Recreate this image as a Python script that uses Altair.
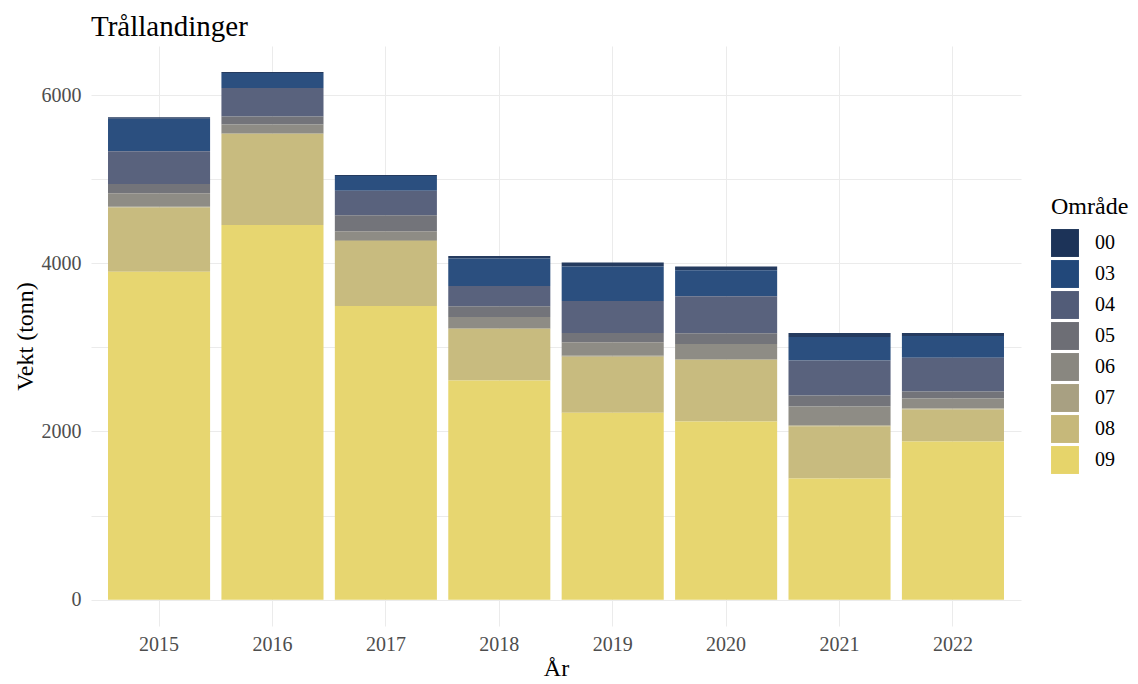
import altair as alt
import pandas as pd

years = ["2015", "2016", "2017", "2018", "2019", "2020", "2021", "2022"]
areas = ["00", "03", "04", "05", "06", "07", "08", "09"]
colors = ["#1c3358", "#22487a", "#525c78", "#6d6e75", "#898780", "#a8a082", "#c6b87a", "#e6d46a"]

v00 = [20, 10, 10, 31, 48, 43, 48, 36]
v03 = [384, 180, 177, 326, 409, 310, 278, 258]
v04 = [390, 337, 290, 242, 381, 440, 416, 401]
v05 = [110, 95, 190, 127, 110, 127, 131, 83]
v06 = [160, 105, 105, 133, 161, 181, 225, 121]
v07 = [10, 10, 10, 10, 10, 10, 10, 10]
v08 = [763, 1080, 774, 611, 667, 730, 623, 381]
v09 = [3900, 4456, 3492, 2607, 2222, 2119, 1440, 1881]

series = [v00, v03, v04, v05, v06, v07, v08, v09]
rows = []
for ai, (a, vals) in enumerate(zip(areas, series)):
    for y, v in zip(years, vals):
        rows.append({"År": y, "Område": a, "Vekt": v, "rank": len(areas) - 1 - ai})
df = pd.DataFrame(rows)

FONT = "Liberation Serif"

chart = alt.Chart(df).mark_bar(opacity=0.96).encode(
    x=alt.X("År:N", title="År",
            scale=alt.Scale(paddingInner=0.1, paddingOuter=0.15),
            axis=alt.Axis(labelAngle=0, ticks=False, domain=False, grid=True,
                          bandPosition=0.5, labelFontSize=20, labelColor="#4d4d4d",
                          labelFont=FONT, titleFont=FONT, titleFontSize=24,
                          titleFontWeight="normal", titleColor="#000000",
                          labelPadding=8, titlePadding=2, gridColor="#ebebeb")),
    y=alt.Y("sum(Vekt):Q", title="Vekt (tonn)", stack="zero",
            scale=alt.Scale(domain=[-313, 6583], nice=False, zero=False),
            axis=alt.Axis(values=[0, 1000, 2000, 3000, 4000, 5000, 6000],
                          labelExpr="datum.value % 2000 == 0 ? datum.label : ''",
                          format="d", ticks=False, domain=False, grid=True,
                          gridColor="#ebebeb", labelFontSize=20, labelColor="#4d4d4d",
                          labelFont=FONT, titleFont=FONT, titleFontSize=24,
                          titleFontWeight="normal", titleColor="#000000",
                          labelPadding=10, titlePadding=4)),
    color=alt.Color("Område:N", scale=alt.Scale(domain=areas, range=colors),
                    legend=alt.Legend(title="Område", titleFont=FONT, titleFontSize=24,
                                      titleFontWeight="normal", titleColor="#000000",
                                      labelFont=FONT, labelFontSize=20, labelColor="#000000",
                                      symbolType="square", symbolSize=780,
                                      symbolStrokeWidth=0, symbolOpacity=1,
                                      rowPadding=3, labelOffset=16,
                                      orient="none", legendX=960, legendY=149,
                                      titlePadding=10)),
    order=alt.Order("rank:Q", sort="ascending"),
).properties(
    width=930, height=580,
    padding={"left": 5, "top": 5, "right": 0, "bottom": 5},
    title=alt.TitleParams("Trållandinger", font=FONT, fontSize=29, fontWeight="normal",
                          anchor="start", frame="group", color="#000000", offset=4),
).configure_view(stroke=None)

chart.save("out.html", embed_options={"renderer": "svg", "actions": False})
